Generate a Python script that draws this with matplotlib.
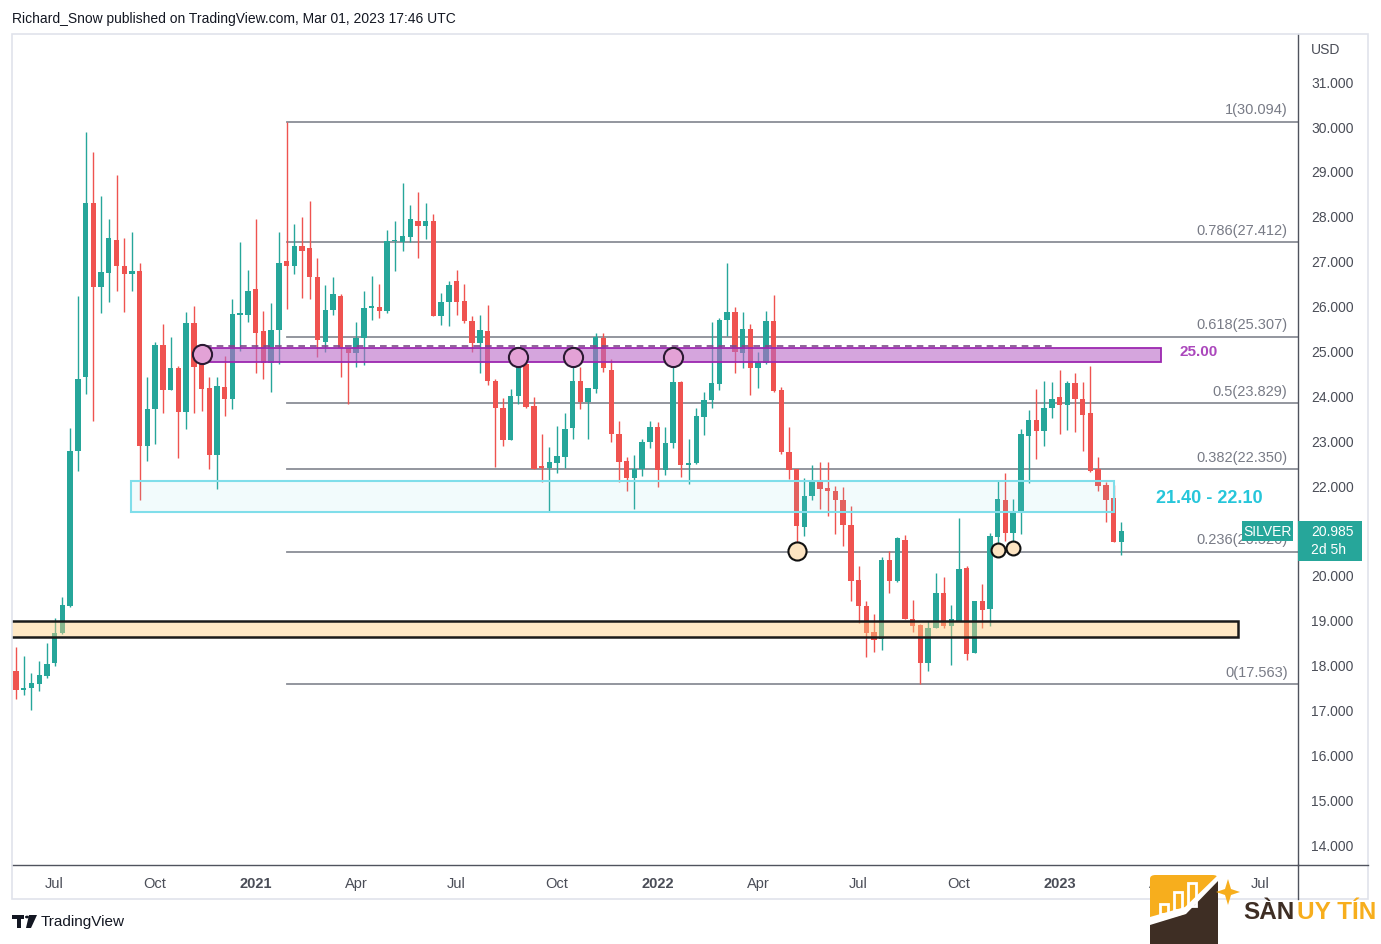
import numpy as np
import pandas as pd
import matplotlib
matplotlib.use('Agg')
import matplotlib.pyplot as plt
from matplotlib.patches import Rectangle, FancyBboxPatch, Polygon
from matplotlib.transforms import blended_transform_factory

W, H = 1381, 945
plt.rcParams['font.family'] = ['Liberation Sans', 'DejaVu Sans']

GREEN = '#26a69a'
RED = '#ef5350'
TXT = '#131722'

# weekly XAG/USD candles, first week starts 2020-06-01
start = pd.Timestamp('2020-06-01')
opens = [17.86, 17.44, 17.48, 17.58, 17.76, 18.03, 18.71, 19.31, 22.77, 24.40,
         28.28, 26.41, 26.73, 27.47, 26.89, 26.71, 26.76, 22.88, 23.69, 25.13,
         24.13, 24.60, 23.63, 25.62, 24.92, 24.16, 22.67, 24.18, 23.92, 25.79,
         25.79, 26.36, 25.43, 24.72, 25.46, 26.99, 26.89, 27.32, 27.28, 26.64,
         25.20, 25.91, 26.22, 25.05, 24.94, 25.27, 25.94, 25.98, 25.89, 27.43,
         27.42, 27.53, 27.88, 27.78, 27.89, 25.77, 26.09, 26.54, 26.11, 25.66,
         25.17, 25.44, 24.31, 23.73, 23.01, 23.99, 24.70, 23.76, 22.41, 22.38,
         22.50, 22.62, 23.27, 24.33, 23.86, 24.14, 25.27, 24.57, 23.13, 22.53,
         22.15, 22.35, 22.97, 23.29, 22.34, 22.94, 24.29, 22.45, 22.49, 23.53,
         23.90, 24.25, 25.68, 25.85, 24.94, 25.49, 24.61, 24.72, 25.65, 24.11,
         22.75, 22.36, 21.06, 21.75, 22.10, 21.93, 21.88, 21.67, 21.11, 19.89,
         19.32, 18.72, 18.57, 20.33, 19.87, 20.79, 19.03, 18.89, 18.03, 18.82,
         19.59, 18.86, 18.98, 20.15, 18.26, 19.43, 19.24, 20.84, 21.68, 20.93,
         21.43, 23.10, 23.46, 23.21, 23.71, 23.96, 23.79, 24.28, 23.92, 23.60,
         22.36, 22.00, 21.71, 20.74]
highs = [18.39, 18.20, 17.82, 18.08, 18.48, 19.05, 19.50, 23.27, 26.21, 29.86,
         29.43, 28.45, 27.92, 28.90, 27.50, 27.63, 26.96, 24.42, 25.19, 25.58,
         25.30, 24.66, 25.85, 26.00, 24.98, 24.40, 24.42, 24.87, 26.15, 27.41,
         26.79, 27.93, 25.89, 26.05, 27.65, 30.094, 27.82, 27.97, 28.32, 27.07,
         26.46, 26.63, 26.26, 25.05, 25.63, 26.32, 26.65, 26.48, 27.68, 27.89,
         28.74, 28.24, 28.54, 28.28, 28.04, 26.29, 26.55, 26.79, 26.48, 25.77,
         25.80, 26.01, 24.37, 23.94, 24.14, 24.92, 24.74, 23.96, 23.14, 22.84,
         23.32, 23.60, 24.70, 24.63, 24.16, 25.40, 25.40, 24.81, 23.44, 22.62,
         22.68, 23.04, 23.44, 23.41, 23.30, 24.65, 24.31, 23.04, 23.71, 24.08,
         25.63, 25.72, 26.94, 25.96, 25.85, 25.59, 24.97, 25.87, 26.24, 24.18,
         23.29, 22.36, 22.15, 22.46, 22.51, 22.52, 21.99, 21.95, 21.54, 20.21,
         19.43, 19.13, 20.39, 20.54, 20.85, 20.89, 19.45, 18.91, 18.98, 20.04,
         19.95, 19.33, 21.26, 20.19, 19.43, 19.80, 20.93, 22.10, 22.27, 21.69,
         23.25, 23.68, 24.14, 24.31, 24.29, 24.57, 24.31, 24.51, 24.29, 24.65,
         22.62, 22.08, 22.00, 21.19]
lows = [17.24, 17.33, 16.99, 17.41, 17.71, 17.97, 18.69, 19.29, 22.31, 24.04,
        23.42, 25.83, 26.08, 26.32, 25.85, 26.32, 21.67, 22.54, 22.91, 23.61,
        24.13, 22.60, 23.25, 23.61, 23.66, 22.36, 21.92, 23.55, 23.70, 24.99,
        25.63, 24.50, 24.37, 24.07, 24.70, 25.92, 26.70, 26.17, 26.15, 24.85,
        24.97, 25.79, 24.42, 23.81, 24.63, 24.68, 25.67, 25.72, 25.83, 26.76,
        27.22, 27.42, 27.07, 27.48, 25.77, 25.57, 25.55, 25.80, 25.61, 24.97,
        24.51, 24.23, 22.41, 22.88, 23.01, 23.81, 23.73, 22.37, 22.08, 21.43,
        22.27, 22.38, 23.04, 23.70, 23.04, 24.05, 24.53, 22.97, 22.08, 21.88,
        21.47, 22.21, 22.82, 21.97, 22.23, 22.83, 22.18, 22.03, 22.47, 23.12,
        23.71, 24.13, 25.32, 24.50, 24.62, 24.01, 24.16, 24.70, 24.07, 22.69,
        22.14, 20.49, 20.86, 21.68, 21.47, 21.31, 20.91, 20.64, 19.41, 18.94,
        18.17, 18.28, 18.34, 19.60, 19.85, 19.03, 18.74, 17.563, 17.87, 18.82,
        18.81, 17.99, 18.98, 18.11, 18.26, 18.83, 18.86, 20.58, 20.76, 20.58,
        20.91, 22.04, 22.58, 22.87, 23.49, 23.14, 23.24, 23.18, 22.77, 22.30,
        21.86, 21.19, 20.74, 20.45]
closes = [17.44, 17.48, 17.60, 17.78, 18.02, 18.71, 19.33, 22.77, 24.36, 28.28,
          26.42, 26.75, 27.50, 26.89, 26.70, 26.76, 22.87, 23.70, 25.13, 24.13,
          24.60, 23.63, 25.62, 24.64, 24.14, 22.67, 24.20, 23.92, 25.81, 25.81,
          26.33, 25.39, 24.72, 25.46, 26.95, 26.89, 27.32, 27.22, 26.64, 25.24,
          25.91, 26.26, 25.05, 24.94, 25.27, 25.94, 26.00, 25.89, 27.45, 27.45,
          27.54, 27.93, 27.78, 27.89, 25.77, 26.09, 26.47, 26.09, 25.65, 25.17,
          25.46, 24.31, 23.71, 23.01, 23.99, 24.85, 23.75, 22.37, 22.38, 22.52,
          22.66, 23.25, 24.31, 23.85, 24.16, 25.31, 24.61, 23.13, 22.52, 22.15,
          22.36, 22.97, 23.30, 22.34, 22.95, 24.29, 22.45, 22.49, 23.55, 23.90,
          24.27, 25.68, 25.85, 24.96, 25.49, 24.61, 24.74, 25.65, 24.09, 22.73,
          22.34, 21.08, 21.75, 22.10, 21.92, 21.86, 21.67, 21.11, 19.87, 19.30,
          18.70, 18.56, 20.33, 19.87, 20.82, 19.03, 18.87, 18.03, 18.83, 19.59,
          18.86, 19.03, 20.13, 18.24, 19.43, 19.23, 20.86, 21.69, 20.93, 21.39,
          23.13, 23.46, 23.21, 23.71, 23.93, 23.79, 24.28, 23.92, 23.56, 22.32,
          21.99, 21.68, 20.74, 20.985]

tick_dates = ['2020-07-06', '2020-10-05', '2021-01-04', '2021-04-05', '2021-07-05',
              '2021-10-04', '2022-01-03', '2022-04-04', '2022-07-04', '2022-10-03',
              '2023-01-02', '2023-04-03', '2023-07-03']
tick_labels = ['Jul', 'Oct', '2021', 'Apr', 'Jul', 'Oct', '2022', 'Apr', 'Jul', 'Oct',
               '2023', 'Apr', 'Jul']
price_ticks = list(range(14, 32))

# fibonacci retracement (high Feb 2021 -> low Sep 2022)
fib_ratios = ['1', '0.786', '0.618', '0.5', '0.382', '0.236', '0']
fib_prices = [30.094, 27.412, 25.307, 23.829, 22.350, 20.520, 17.563]
fib_start_week = 35

# zones
purple_zone = (24.75, 25.05)
cyan_zone = (21.40, 22.10)
orange_zone = (18.62, 18.98)
purple_touch_weeks = [24, 65, 72, 85]
purple_touch_prices = [24.93, 24.86, 24.86, 24.86]
orange_touch_weeks = [101, 127, 129]
orange_touch_prices = [20.53, 20.56, 20.60]
last_price = 20.985


def fx(px):
    return px / W


def fy(py):
    return 1 - py / H


fig = plt.figure(figsize=(W / 100, H / 100), dpi=100)
fig.patch.set_facecolor('white')
ax = fig.add_axes([fx(12), fy(866), fx(1298) - fx(12), fy(35) - fy(866)])
ax.set_xlim(-0.52, 165.85)
ax.set_ylim(13.54, 32.05)

o, h, l, c = map(np.array, (opens, highs, lows, closes))
idx = np.arange(len(o))
col = np.where(c >= o, GREEN, RED)
ax.vlines(idx, l, h, colors=col, lw=1.0, zorder=3)
ax.bar(idx, np.maximum(np.abs(c - o), 0.04), bottom=np.minimum(o, c), width=0.7,
       color=col, linewidth=0, zorder=4)

# fib lines
for r, p in zip(fib_ratios, fib_prices):
    ax.plot([fib_start_week, 200], [p, p], color='#8a8d96', lw=1.3, zorder=2)
    ax.annotate(f'{r}({p:.3f})', xy=(1, p), xycoords=('axes fraction', 'data'),
                xytext=(-7.5, 4), textcoords='offset points', ha='right', va='bottom',
                fontsize=10.5, color='#787b86', zorder=6)

# zones
ax.add_patch(Rectangle((23.5, purple_zone[0]), 148.1 - 23.5, purple_zone[1] - purple_zone[0],
                       facecolor=(0.73, 0.41, 0.78, 0.6), edgecolor='#9c27b0', lw=1.3, zorder=5))
ax.plot([24.4, 134], [purple_zone[1] + 0.04] * 2, color='#7b4a86', lw=1.2,
        ls=(0, (4, 3)), zorder=5)
ax.add_patch(Rectangle((14.9, cyan_zone[0]), 142.0 - 14.9, cyan_zone[1] - cyan_zone[0],
                       facecolor=(0.5, 0.87, 0.92, 0.1), edgecolor='#80deea', lw=1.5, zorder=5))
ax.add_patch(Rectangle((-5, orange_zone[0]), 158.1 + 5, orange_zone[1] - orange_zone[0],
                       facecolor=(1.0, 0.8, 0.5, 0.45), edgecolor='#1a1a1a', lw=1.8, zorder=5))

ax.scatter(purple_touch_weeks, purple_touch_prices, s=190, facecolor='#e3a2d6',
           edgecolor='#2b1a33', lw=1.5, zorder=7)
ax.scatter(orange_touch_weeks[:1], orange_touch_prices[:1], s=170, facecolor='#fde4c2',
           edgecolor='#111111', lw=1.5, zorder=7)
ax.scatter(orange_touch_weeks[1:], orange_touch_prices[1:], s=100, facecolor='#fde4c2',
           edgecolor='#111111', lw=1.5, zorder=7)

ax.text(150.5, 24.98, '25.00', color='#ab47bc', fontsize=11, fontweight='bold',
        ha='left', va='center', zorder=8)
ax.text(147.5, 21.72, '21.40 - 22.10', color='#26c6da', fontsize=13, fontweight='bold',
        ha='left', va='center', zorder=8)

# axes
tick_pos = [(pd.Timestamp(d) - start).days / 7 for d in tick_dates]
ax.set_xticks(tick_pos)
ax.set_xticklabels(tick_labels)
for lab in ax.get_xticklabels():
    if lab.get_text().isdigit():
        lab.set_fontweight('bold')
ax.tick_params(axis='x', length=0, pad=8, labelsize=10.5, labelcolor='#4a4d57')
ax.yaxis.tick_right()
ax.set_yticks(price_ticks)
ax.set_yticklabels([f'{v:.3f}' for v in price_ticks])
ax.tick_params(axis='y', length=0, pad=9.5, labelsize=10, labelcolor='#4a4d57')
for s in ('top', 'left'):
    ax.spines[s].set_visible(False)
for s in ('right', 'bottom'):
    ax.spines[s].set_color('#50535e')
    ax.spines[s].set_linewidth(1.0)

# last price labels
bt = blended_transform_factory(ax.transAxes, ax.transData)
ax.add_patch(Rectangle((1.0, last_price - 0.67), 64 / 1286, 0.89, transform=bt,
                       facecolor=GREEN, edgecolor='none', clip_on=False, zorder=9))
ax.text(1.0 + 13 / 1286, last_price, f'{last_price:.3f}', transform=bt, color='white',
        fontsize=10, ha='left', va='center', zorder=10, clip_on=False)
ax.text(1.0 + 13 / 1286, last_price - 0.41, '2d 5h', transform=bt, color='white',
        fontsize=10, ha='left', va='center', zorder=10, clip_on=False)
ax.add_patch(Rectangle(((1242 - 12) / 1286, last_price - 0.22), 51 / 1286, 0.445, transform=bt,
                       facecolor=GREEN, edgecolor='none', clip_on=False, zorder=9))
ax.text((1267.5 - 12) / 1286, last_price, 'SILVER', transform=bt, color='white',
        fontsize=10, ha='center', va='center', zorder=10, clip_on=False)

# frame
fig.add_artist(Rectangle((fx(12), fy(900)), fx(1368) - fx(12), fy(35) - fy(900),
                         transform=fig.transFigure, fill=False, ec='#e0e3eb', lw=1.2))
fig.add_artist(plt.Line2D([fx(1298), fx(1298)], [fy(866), fy(900)], color='#50535e', lw=1.0))
fig.add_artist(plt.Line2D([fx(1298), fx(1368)], [fy(866), fy(866)], color='#50535e', lw=1.0))
fig.text(fx(1311), fy(50), 'USD', fontsize=10, color='#4a4d57', ha='left', va='center')

fig.text(fx(12), fy(19), 'Richard_Snow published on TradingView.com, Mar 01, 2023 17:46 UTC',
         fontsize=10, color=TXT, ha='left', va='center')

# TradingView footer logo
fig.add_artist(Polygon([(fx(12), fy(916)), (fx(24), fy(916)), (fx(24), fy(920)), (fx(21), fy(920)),
                        (fx(21), fy(929)), (fx(17), fy(929)), (fx(17), fy(920)), (fx(12), fy(920))],
                       closed=True, transform=fig.transFigure, fc=TXT, ec='none'))
fig.add_artist(Polygon([(fx(29), fy(916)), (fx(37), fy(916)), (fx(31), fy(929)), (fx(26), fy(929))],
                       closed=True, transform=fig.transFigure, fc=TXT, ec='none'))
fig.add_artist(plt.Circle((fx(27), fy(918)), 2 / W, transform=fig.transFigure, fc=TXT, ec='none'))
fig.text(fx(41), fy(922), 'TradingView', fontsize=11, color=TXT, ha='left', va='center')

# watermark logo
fig.add_artist(FancyBboxPatch((fx(1150), fy(950)), fx(68), fy(0) - fy(74),
                              boxstyle='round,pad=0,rounding_size=0.004',
                              transform=fig.transFigure, fc='#f7ae1d', ec='none', zorder=20))
fig.add_artist(Polygon([(fx(1150), fy(925)), (fx(1185), fy(915)), (fx(1218), fy(880)),
                        (fx(1218), fy(945)), (fx(1150), fy(945))], closed=True,
                       transform=fig.transFigure, fc='#3e2e24', ec='none', zorder=21))
fig.add_artist(Polygon([(fx(1150), fy(918)), (fx(1185), fy(908)), (fx(1218), fy(876)),
                        (fx(1218), fy(882)), (fx(1186), fy(915)), (fx(1150), fy(926))], closed=True,
                       transform=fig.transFigure, fc='white', ec='none', zorder=22))
for bx, top in [(1160, 905), (1174, 893), (1188, 884)]:
    fig.add_artist(Rectangle((fx(bx), fy(915 - (bx - 1160) * 0.3)), fx(8), fy(top) - fy(915 - (bx - 1160) * 0.3),
                             transform=fig.transFigure, fc='none', ec='white', lw=2, zorder=22))
fig.add_artist(Polygon([(fx(1228), fy(880)), (fx(1231), fy(890)), (fx(1240), fy(893)),
                        (fx(1231), fy(896)), (fx(1228), fy(906)), (fx(1225), fy(896)),
                        (fx(1216), fy(893)), (fx(1225), fy(890))], closed=True,
                       transform=fig.transFigure, fc='#f7ae1d', ec='none', zorder=22))
fig.text(fx(1243), fy(913), 'SÀN', fontsize=17.5, fontweight='bold', color='#3e2e24',
         ha='left', va='center', zorder=23)
fig.text(fx(1297), fy(913), 'UY TÍN', fontsize=17.5, fontweight='bold', color='#f7ae1d',
         ha='left', va='center', zorder=23)

fig.savefig('out.png', dpi=100)
